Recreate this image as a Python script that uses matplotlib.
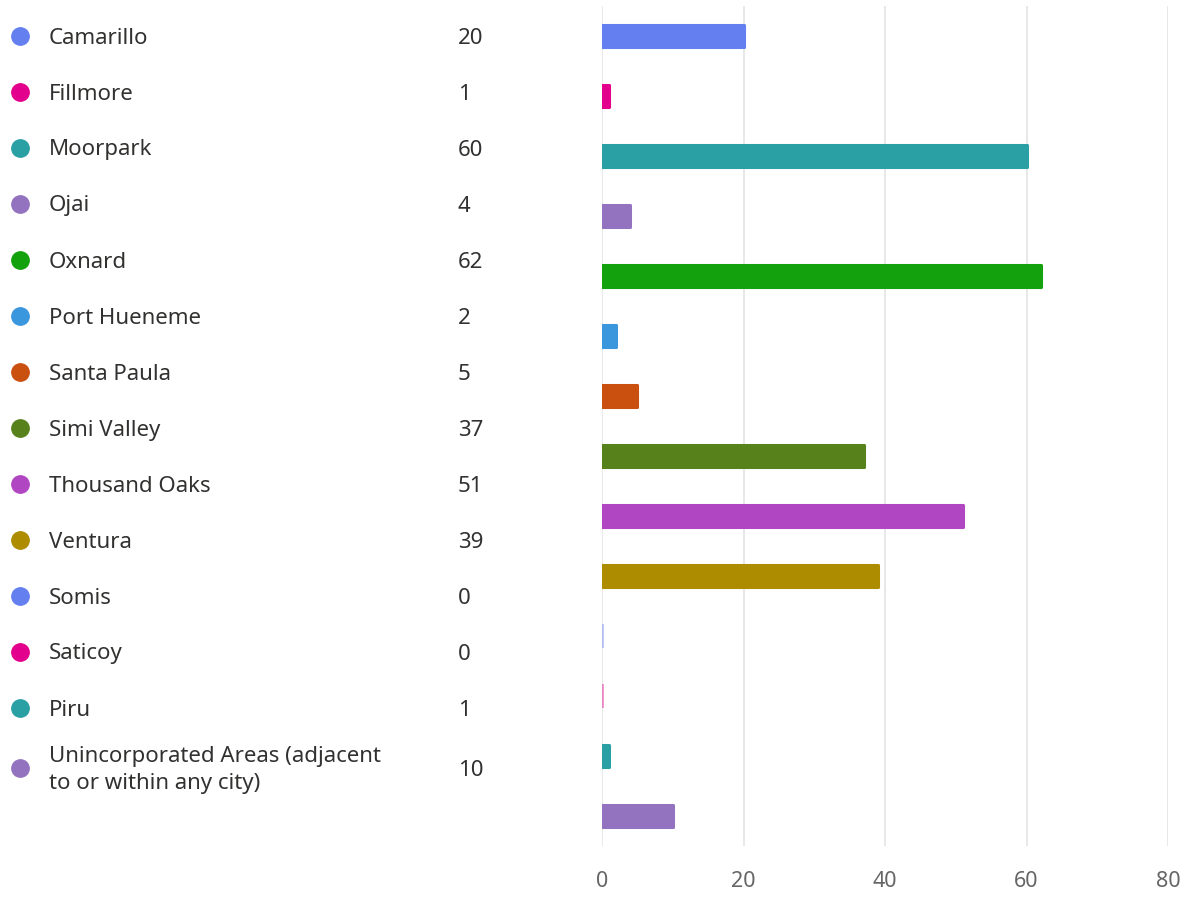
import matplotlib.pyplot as plt

plt.rcParams['font.family'] = ['Noto Sans', 'DejaVu Sans']

cities = ["Camarillo", "Fillmore", "Moorpark", "Ojai", "Oxnard", "Port Hueneme",
          "Santa Paula", "Simi Valley", "Thousand Oaks", "Ventura", "Somis",
          "Saticoy", "Piru", "Unincorporated Areas (adjacent\nto or within any city)"]
counts = [20, 1, 60, 4, 62, 2, 5, 37, 51, 39, 0, 0, 1, 10]
colors = ["#6480F0", "#E3008C", "#2AA0A4", "#9373C0", "#13A10E", "#3A96DD",
          "#CA5010", "#57811B", "#B146C2", "#AE8C00", "#6480F0", "#E3008C",
          "#2AA0A4", "#9373C0"]
xticks = [0, 20, 40, 60, 80]

W, H = 1190, 897
fig = plt.figure(figsize=(W / 100, H / 100), dpi=100)

# bar panel on the right
ax = fig.add_axes([602 / W, (H - 846) / H, (1168 - 602) / W, 840 / H])
ypos = list(range(len(counts)))
for y, v, c in zip(ypos, counts, colors):
    if v == 0:
        ax.barh(y, v, left=0.15, height=0.4, color=c, edgecolor=c,
                linewidth=1.3, alpha=0.45, zorder=3)
    else:
        ax.barh(y, v, height=0.36, color=c, edgecolor=c, linewidth=2.2,
                joinstyle='round', zorder=3)
ax.set_xlim(0, 80)
ax.set_ylim(len(counts) - 0.5, -0.5)
ax.set_xticks(xticks)
ax.set_yticks([])
ax.grid(axis='x', color='#E6E6E6', linewidth=1.3, zorder=0)
for s in ax.spines.values():
    s.set_visible(False)
ax.tick_params(axis='x', length=0, pad=18, labelsize=15.5, labelcolor='#666666')

# legend list on the left
row_y = [36 + 56 * i for i in range(13)] + [768]
for ry, name, v, c in zip(row_y, cities, counts, colors):
    fy = 1 - ry / H
    ty = 1 - (ry + 2) / H
    fig.add_artist(plt.Line2D([20 / W], [fy], marker='o', markersize=12.5,
                              color=c, linestyle='none'))
    fig.text(49 / W, ty, name, ha='left', va='center', fontsize=16,
             color='#323130', linespacing=1.35)
    fig.text(458 / W, ty, str(v), ha='left', va='center', fontsize=16,
             color='#323130')

fig.savefig("out.png", dpi=100, facecolor='white')
